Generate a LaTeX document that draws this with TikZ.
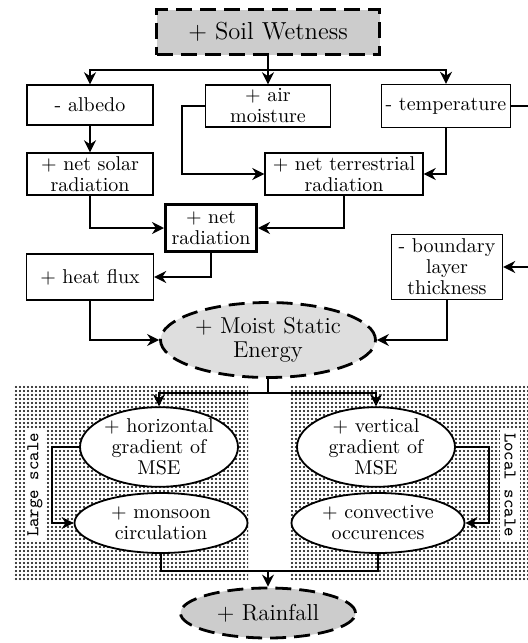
\documentclass[tikz,border=0pt]{standalone}
\usetikzlibrary{arrows.meta,shapes.geometric,patterns.meta}
\begin{document}
\begin{tikzpicture}[
    x=0.5pt, y=-0.5pt,
    every node/.style={font=\fontsize{10}{10.5}\selectfont, align=center},
    box/.style={rectangle, draw, line width=0.7pt, fill=white, inner sep=1pt},
    bubble/.style={ellipse, draw, line width=0.9pt, fill=white, inner sep=0pt},
    keynode/.style={draw, line width=1.4pt, dash pattern=on 8pt off 4pt, fill=black!20, font=\fontsize{11.5}{12}\selectfont},
    arrow/.style={-{Stealth[length=6pt,width=6pt]}, line width=1pt},
    link/.style={line width=1pt},
    panel/.style={pattern={Dots[distance=2pt, radius=0.6pt]}, draw=none},
    scalelabel/.style={fill=white, inner sep=0pt, minimum width=55pt, minimum height=10pt, font=\ttfamily\fontsize{9}{9}\selectfont}
]
    \useasboundingbox (0,0) rectangle (528,643);
    \clip (0,0) rectangle (528,643);

    % dotted backgrounds
    \fill[panel] (13,385) rectangle (248,580);
    \fill[panel] (290,385) rectangle (528,580);
    \node[scalelabel, rotate=90] (large) at (35,485) {Large scale};
    \node[scalelabel, rotate=-90] (local) at (510,485) {Local scale};

    % top part
    \node[keynode, font=\fontsize{12.3}{13}\selectfont, minimum width=111.5pt, minimum height=22.5pt] (soil) at (268,32) {+ Soil Wetness};
    \node[box, minimum width=63pt, minimum height=20pt] (albedo) at (90,105) {- albedo};
    \node[box, minimum width=62.5pt, minimum height=21pt] (air) at (268,106) {+ air\\moisture};
    \node[box, minimum width=64.5pt, minimum height=21.5pt] (temp) at (446,106) {- temperature};
    \node[box, minimum width=63pt, minimum height=21pt] (solar) at (90,174) {+ net solar\\radiation};
    \node[box, minimum width=79pt, minimum height=21pt] (terr) at (344,174) {+ net terrestrial\\radiation};
    \node[box, line width=1.5pt, minimum width=45.5pt, minimum height=23.5pt] (netrad) at (211,228) {+ net\\radiation};
    \node[box, minimum width=63.5pt, minimum height=23pt] (heat) at (90,277) {+ heat flux};
    \node[box, minimum width=55.5pt, minimum height=32.5pt] (blayer) at (447,267) {- boundary\\layer\\thickness};
    \node[keynode, ellipse, fill=black!13, inner sep=0pt, minimum width=107.5pt, minimum height=37.5pt] (mse) at (268,340) {+ Moist Static\\Energy};

    % bottom part
    \node[bubble, minimum width=79pt, minimum height=37.5pt] (hgrad) at (159,447) {+ horizontal\\gradient of\\MSE};
    \node[bubble, minimum width=86.5pt, minimum height=30pt] (monsoon) at (161,523) {+ monsoon\\circulation};
    \node[bubble, minimum width=79pt, minimum height=37.5pt] (vgrad) at (376,447) {+ vertical\\gradient of\\MSE};
    \node[bubble, minimum width=86.5pt, minimum height=30pt] (conv) at (378,523) {+ convective\\occurences};
    \node[keynode, ellipse, inner sep=0pt, minimum width=87.5pt, minimum height=25pt] (rain) at (268,613) {+ Rainfall};

    \coordinate (split) at (268,70);
    \coordinate (fork) at (268,393);
    \coordinate (join) at (268,571);

    \draw[link] (soil) -- (split);
    \draw[arrow] (split) -| (albedo);
    \draw[arrow] (split) -- (air);
    \draw[arrow] (split) -| (temp);
    \draw[arrow] (albedo) -- (solar);
    \draw[arrow] (air.west) -- ++(-23,0) |- (terr.west);
    \draw[arrow] (temp.south) |- (terr.east);
    \draw[arrow] (temp.east) -- ++(30,0) |- (blayer.east);
    \draw[arrow] (solar.south) |- (netrad.west);
    \draw[arrow] (terr.south) |- (netrad.east);
    \draw[arrow] (netrad.south) |- (heat.east);
    \draw[arrow] (heat.south) |- (mse.west);
    \draw[arrow] (blayer.south) |- (mse.east);

    \draw[link] (mse) -- (fork);
    \draw[arrow] (fork) -| (hgrad);
    \draw[arrow] (fork) -| (vgrad);
    \draw[arrow] (hgrad.west) -- ++(-27,0) |- (monsoon.west);
    \draw[arrow] (vgrad.east) -- ++(33,0) |- (conv.east);
    \draw[link] (monsoon.south) |- (join);
    \draw[link] (conv.south) |- (join);
    \draw[arrow] (join) -- (rain);
\end{tikzpicture}
\end{document}
